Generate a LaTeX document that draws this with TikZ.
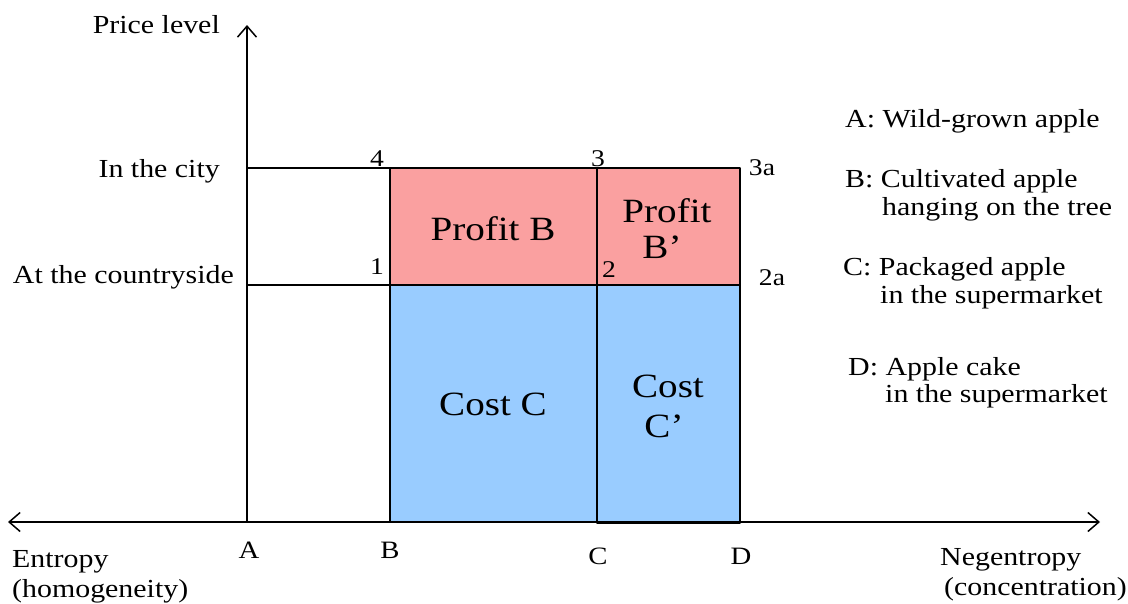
\documentclass[tikz,border=0pt]{standalone}
\usepackage{fontspec}
\setmainfont{Liberation Serif}[FakeStretch=1.15]
\usetikzlibrary{arrows.meta}
\definecolor{profitred}{RGB}{250,160,160}
\definecolor{costblue}{RGB}{153,204,255}

\begin{document}
\begin{tikzpicture}[x=1pt,y=-1pt,line cap=round,line join=round,>={Straight Barb[length=11pt,width=19pt]},every node/.style={inner sep=0pt},
  lbl/.style={font=\fontsize{26}{30}\selectfont},
  pnt/.style={font=\fontsize{24}{28}\selectfont},
  good/.style={font=\fontsize{25}{30}\selectfont},
  area/.style={font=\fontsize{34}{38}\selectfont}]
  \useasboundingbox (0,0) rectangle (1128,603);
  \def\xA{247}
  \def\xB{390}
  \def\xC{597}
  \def\xD{740}
  \def\yO{522}
  \def\yL{285}
  \def\yH{168}
  % areas
  \fill[costblue] (\xB,\yL) rectangle (\xD,\yO);
  \fill[profitred] (\xB,\yH) rectangle (\xD,\yL);
  \draw[line width=1.8pt] (\xB,\yH) rectangle (\xD,\yO);
  \draw[line width=1.8pt] (\xC,\yH) -- (\xC,\yO);
  \draw[line width=1.6pt] (\xB,\yL) -- (\xD,\yL);
  % axes
  \draw[line width=1.2pt] (\xA,\yH) -- (\xB,\yH);
  \draw[line width=1.2pt] (\xA,\yL) -- (\xB,\yL);
  \draw[<->,line width=1.5pt] (8,\yO) -- (1100,\yO);
  \draw[->,line width=1.5pt] (\xA,\yO) -- (\xA,25);
  \draw[line width=3pt] (\xC,\yO) -- (\xD,\yO);
  % price levels
  \node[lbl,anchor=base east] (price) at (220,33) {Price level};
  \node[lbl,anchor=base east] (city) at (220,177) {In the city};
  \node[lbl,anchor=base east] (country) at (234,283) {At the countryside};
  % corner points
  \node[pnt] (p4) at (377,159) {4};
  \node[pnt] (p3) at (598,159) {3};
  \node[pnt] (p3a) at (762,168) {3a};
  \node[pnt] (p1) at (377,267) {1};
  \node[pnt] (p2) at (609,270) {2};
  \node[pnt] (p2a) at (772,278) {2a};
  % area labels
  \node[area,anchor=base] (profB) at (493,240) {Profit B};
  \node[area,anchor=base] (profBb) at (667,222) {Profit};
  \node[area,anchor=base] (profBc) at (662,258) {B’};
  \node[area,anchor=base] (costC) at (493,415) {Cost C};
  \node[area,anchor=base] (costCb) at (668,397) {Cost};
  \node[area,anchor=base] (costCc) at (664,437) {C’};
  % goods on the axis
  \node[good,anchor=base] (gA) at (249,558) {A};
  \node[good,anchor=base] (gB) at (390,558) {B};
  \node[good,anchor=base] (gC) at (598,564) {C};
  \node[good,anchor=base] (gD) at (741,564) {D};
  \node[lbl,anchor=base west] (ent) at (12,567) {Entropy};
  \node[lbl,anchor=base west] (hom) at (12,597) {(homogeneity)};
  \node[lbl,anchor=base west] (neg) at (940,565) {Negentropy};
  \node[lbl,anchor=base east] (conc) at (1127,595) {(concentration)};
  % legend
  \node[lbl,anchor=base west] (legA) at (845,127) {A: Wild-grown apple};
  \node[lbl,anchor=base west] (legB) at (845,187) {B: Cultivated apple};
  \node[lbl,anchor=base west] (legBb) at (882,215) {hanging on the tree};
  \node[lbl,anchor=base west] (legC) at (843,275) {C: Packaged apple};
  \node[lbl,anchor=base west] (legCb) at (880,303) {in the supermarket};
  \node[lbl,anchor=base west] (legD) at (848,375) {D: Apple cake};
  \node[lbl,anchor=base west] (legDb) at (885,402) {in the supermarket};
\end{tikzpicture}
\end{document}
